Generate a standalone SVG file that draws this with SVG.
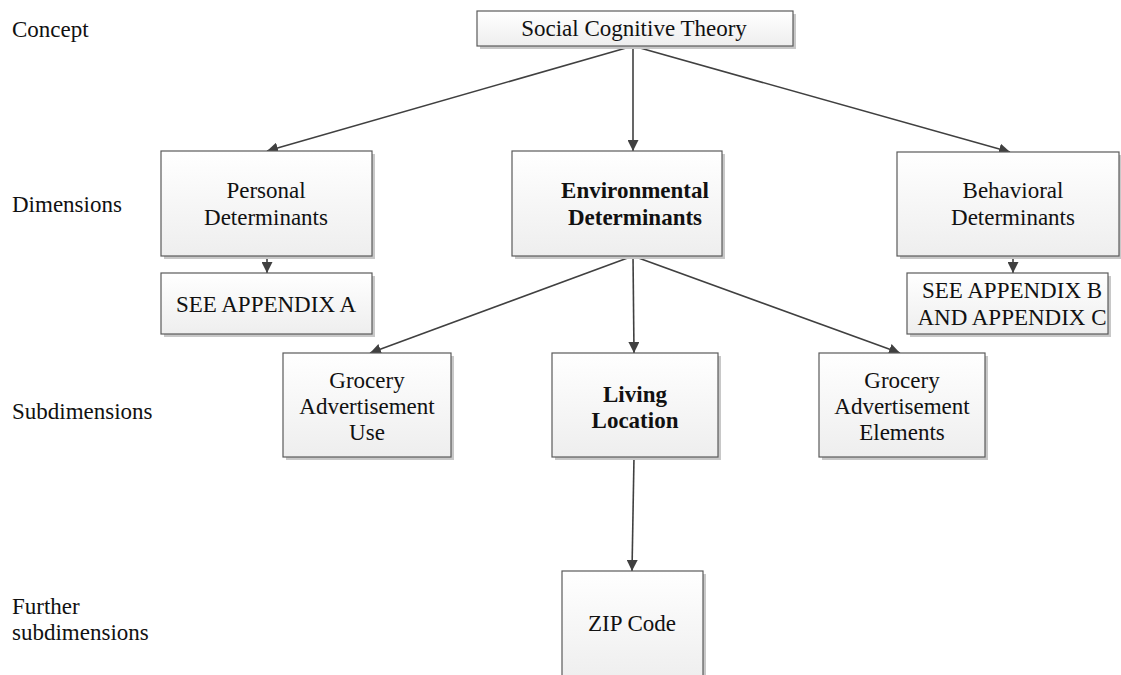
<svg xmlns="http://www.w3.org/2000/svg" width="1121" height="675" viewBox="0 0 1121 675">
  <defs>
    <linearGradient id="boxFill" x1="0" y1="0" x2="0" y2="1">
      <stop offset="0" stop-color="#ffffff"/>
      <stop offset="1" stop-color="#eeeeee"/>
    </linearGradient>
    <marker id="arrow" viewBox="0 0 10 10" refX="10" refY="5" markerWidth="11" markerHeight="11" markerUnits="userSpaceOnUse" orient="auto">
      <path d="M0,0 L10,5 L0,10 Z" fill="#404040"/>
    </marker>
  </defs>
  <style>
    .box { fill: url(#boxFill); stroke: #5a5a5a; stroke-width: 1.2; }
    .shadow { fill: #c8c8c8; }
    .txt { font-family: "Liberation Serif", "Times New Roman", serif; font-size: 23px; fill: #111; text-anchor: middle; }
    .bold { font-weight: bold; }
    .lbl { font-family: "Liberation Serif", "Times New Roman", serif; font-size: 23px; fill: #111; }
    .conn { stroke: #404040; stroke-width: 1.6; fill: none; marker-end: url(#arrow); }
  </style>
  <rect width="1121" height="675" fill="#ffffff"/>

  <!-- level labels -->
  <g id="levels">
    <text class="lbl" x="12" y="37">Concept</text>
    <text class="lbl" x="12" y="212">Dimensions</text>
    <text class="lbl" x="12" y="419">Subdimensions</text>
    <text class="lbl" x="12" y="614">Further</text>
    <text class="lbl" x="12" y="640">subdimensions</text>
  </g>

  <!-- connectors -->
  <g id="connectors">
    <line class="conn" x1="633" y1="46" x2="267" y2="151"/>
    <line class="conn" x1="633" y1="46" x2="633" y2="151"/>
    <line class="conn" x1="633" y1="46" x2="1010" y2="152"/>
    <line class="conn" x1="267" y1="256" x2="267" y2="273"/>
    <line class="conn" x1="1013" y1="256" x2="1013" y2="273"/>
    <line class="conn" x1="633" y1="256" x2="370" y2="353"/>
    <line class="conn" x1="633" y1="256" x2="634" y2="353"/>
    <line class="conn" x1="633" y1="256" x2="900" y2="353"/>
    <line class="conn" x1="634" y1="457" x2="632" y2="571"/>
  </g>

  <g id="social-cognitive-theory">
    <rect class="shadow" x="480" y="14" width="316" height="35"/>
    <rect class="box" x="477" y="11" width="316" height="35"/>
    <text class="txt" x="634" y="36">Social Cognitive Theory</text>
  </g>

  <g id="personal-determinants">
    <rect class="shadow" x="164" y="154" width="211" height="105"/>
    <rect class="box" x="161" y="151" width="211" height="105"/>
    <text class="txt" x="266" y="198">Personal</text>
    <text class="txt" x="266" y="225">Determinants</text>
  </g>

  <g id="appendix-a">
    <rect class="shadow" x="164" y="276" width="211" height="61"/>
    <rect class="box" x="161" y="273" width="211" height="61"/>
    <text class="txt" x="266" y="312">SEE APPENDIX A</text>
  </g>

  <g id="environmental-determinants">
    <rect class="shadow" x="515" y="154" width="210" height="105"/>
    <rect class="box" x="512" y="151" width="210" height="105"/>
    <text class="txt bold" x="635" y="198">Environmental</text>
    <text class="txt bold" x="635" y="225">Determinants</text>
  </g>

  <g id="behavioral-determinants">
    <rect class="shadow" x="900" y="155" width="222" height="104"/>
    <rect class="box" x="897" y="152" width="222" height="104"/>
    <text class="txt" x="1013" y="198">Behavioral</text>
    <text class="txt" x="1013" y="225">Determinants</text>
  </g>

  <g id="appendix-b-c">
    <rect class="shadow" x="910" y="276" width="201" height="61"/>
    <rect class="box" x="907" y="273" width="201" height="61"/>
    <text class="txt" x="1012" y="298">SEE APPENDIX B</text>
    <text class="txt" x="1012" y="325">AND APPENDIX C</text>
  </g>

  <g id="grocery-advertisement-use">
    <rect class="shadow" x="286" y="356" width="168" height="104"/>
    <rect class="box" x="283" y="353" width="168" height="104"/>
    <text class="txt" x="367" y="388">Grocery</text>
    <text class="txt" x="367" y="414">Advertisement</text>
    <text class="txt" x="367" y="440">Use</text>
  </g>

  <g id="living-location">
    <rect class="shadow" x="555" y="356" width="166" height="104"/>
    <rect class="box" x="552" y="353" width="166" height="104"/>
    <text class="txt bold" x="635" y="402">Living</text>
    <text class="txt bold" x="635" y="428">Location</text>
  </g>

  <g id="grocery-advertisement-elements">
    <rect class="shadow" x="822" y="356" width="166" height="104"/>
    <rect class="box" x="819" y="353" width="166" height="104"/>
    <text class="txt" x="902" y="388">Grocery</text>
    <text class="txt" x="902" y="414">Advertisement</text>
    <text class="txt" x="902" y="440">Elements</text>
  </g>

  <g id="zip-code">
    <rect class="shadow" x="565" y="574" width="141" height="110"/>
    <rect class="box" x="562" y="571" width="141" height="110"/>
    <text class="txt" x="632" y="631">ZIP Code</text>
  </g>
</svg>
